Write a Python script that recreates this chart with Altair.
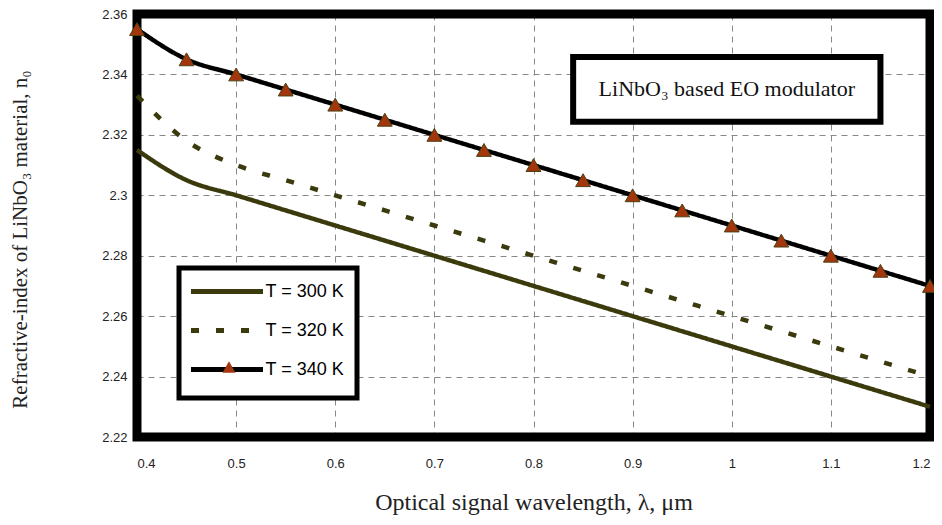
import altair as alt
import pandas as pd

# ---- data ----
wavelength = [0.4, 0.45, 0.5, 0.55, 0.6, 0.65, 0.7, 0.75, 0.8, 0.85, 0.9, 0.95, 1.0, 1.05, 1.1, 1.15, 1.2]
n_300 = [2.315, 2.305, 2.300, 2.295, 2.290, 2.285, 2.280, 2.275, 2.270, 2.265, 2.260, 2.255, 2.250, 2.245, 2.240, 2.235, 2.230]
n_320 = [2.333, 2.318, 2.310, 2.305, 2.300, 2.295, 2.290, 2.285, 2.280, 2.275, 2.270, 2.265, 2.260, 2.255, 2.250, 2.245, 2.240]
n_340 = [2.355, 2.345, 2.340, 2.335, 2.330, 2.325, 2.320, 2.315, 2.310, 2.305, 2.300, 2.295, 2.290, 2.285, 2.280, 2.275, 2.270]
series_labels = ["T = 300 K", "T = 320 K", "T = 340 K"]
marker_keys = ["m300", "m320", "m340"]

x_ticks = [0.4, 0.5, 0.6, 0.7, 0.8, 0.9, 1.0, 1.1, 1.2]
y_ticks = [2.22, 2.24, 2.26, 2.28, 2.30, 2.32, 2.34, 2.36]

note_text = ["LiNbO\u2083 based EO modulator"]
note_x0 = [0.84]
note_x1 = [1.15]
note_y0 = [2.3243]
note_y1 = [2.3458]

x_title = "Optical signal wavelength, \u03bb, \u03bcm"
y_title = "Refractive-index of LiNbO\u2083 material, n\u2080"

# ---- tables ----
rows = []
for lab, key, vals in zip(series_labels, marker_keys, [n_300, n_320, n_340]):
    for w, v in zip(wavelength, vals):
        rows.append({"wl": w, "n": v, "T": lab, "M": key})
df = pd.DataFrame(rows)

note_df = pd.DataFrame({
    "x0": note_x0, "x1": note_x1, "y0": note_y0, "y1": note_y1,
    "xc": [(a + b) / 2 for a, b in zip(note_x0, note_x1)],
    "yc": [(a + b) / 2 for a, b in zip(note_y0, note_y1)],
    "label": note_text,
})

OLIVE = "#3b3a0c"
TRI_FILL = "#a3360c"
TRI_EDGE = "#4a4010"
SERIF = "Liberation Serif, Times New Roman, DejaVu Serif, serif"
SANS = "Liberation Sans Narrow, Liberation Sans, Arial, sans-serif"
W, H = 793, 423

xscale = alt.Scale(domain=[0.4, 1.2], nice=False, zero=False)
yscale = alt.Scale(domain=[2.22, 2.36], nice=False, zero=False)

xaxis = alt.Axis(values=x_ticks, format="~g", title=x_title, labelPadding=20,
                 titlePadding=20, titleFont=SERIF, titleFontSize=24,
                 titleFontWeight="normal", titleColor="#222")
yaxis = alt.Axis(values=y_ticks, format="~g", title=y_title, labelPadding=10,
                 titlePadding=71, titleFont=SERIF, titleFontSize=21,
                 titleFontWeight="normal", titleColor="#222", titleY=225)


def X(field):
    return alt.X(field, type="quantitative", scale=xscale, axis=xaxis)


def Y(field):
    return alt.Y(field, type="quantitative", scale=yscale, axis=yaxis)


legend_common = dict(
    orient="none", legendX=42, legendY=254, padding=12,
    labelFont="Liberation Sans, Arial, sans-serif", labelFontSize=18,
    title=" ", titleOrient="bottom", titleFontSize=6, titlePadding=0,
)

line_legend = alt.Legend(
    **legend_common, rowPadding=17, strokeColor="black", fillColor="white",
    symbolType="M-4,0H4", symbolSize=324, symbolStrokeWidth=5,
    symbolOffset=24.5, labelOffset=27, labelColor="black",
)

lines = alt.Chart(df).mark_line(strokeWidth=4.5, interpolate="monotone").encode(
    x=X("wl"),
    y=Y("n"),
    color=alt.Color("T:N", scale=alt.Scale(domain=series_labels, range=[OLIVE, OLIVE, "black"]),
                    legend=line_legend),
    strokeDash=alt.StrokeDash("T:N", scale=alt.Scale(domain=series_labels,
                                                      range=[[1, 0], [8, 17], [1, 0]]),
                              legend=line_legend),
)

# second, label-less legend that only adds the triangle marker to the T = 340 K entry
tri_legend = alt.Legend(
    **legend_common, rowPadding=21, strokeColor="transparent", labelOpacity=0,
    labelExpr="' '",
    symbolSize=170, symbolOffset=29, symbolFillColor=TRI_FILL,
    symbolStrokeColor=TRI_EDGE, symbolStrokeWidth=1,
)

points = alt.Chart(df).transform_filter(
    alt.datum.T == "T = 340 K"
).mark_point(
    filled=True, fill=TRI_FILL, stroke=TRI_EDGE, strokeWidth=1, size=220, opacity=1
).encode(
    x=X("wl"),
    y=Y("n"),
    shape=alt.Shape("M:N", scale=alt.Scale(domain=marker_keys,
                                            range=["M0,0", "M0,0", "triangle-up"]),
                    legend=tri_legend),
)

box = alt.Chart(note_df).mark_rect(fill="white", stroke="black", strokeWidth=6).encode(
    x=X("x0"), x2="x1", y=Y("y0"), y2="y1"
)
note = alt.Chart(note_df).mark_text(font=SERIF, fontSize=22, color="#111").encode(
    x=X("xc"), y=Y("yc"), text="label:N"
)
frame = alt.Chart(note_df).mark_rect(fillOpacity=0, stroke="black", strokeWidth=9).encode(
    x=alt.value(0), x2=alt.value(W), y=alt.value(0), y2=alt.value(H)
)

chart = alt.layer(box, note, frame, lines, points).properties(
    width=W, height=H,
    autosize=alt.AutoSizeParams(type="none"),
    padding={"left": 129, "top": 6, "right": 4, "bottom": 80},
).configure_view(
    stroke=None
).configure_axis(
    grid=True, gridDash=[6, 5], gridColor="#888888", gridWidth=1,
    ticks=False, domain=False, labelFont=SANS, labelFontSize=13, labelColor="#222",
).configure_legend(
    strokeWidth=5
)

chart.save("out.html", embed_options={"renderer": "svg", "actions": False})
